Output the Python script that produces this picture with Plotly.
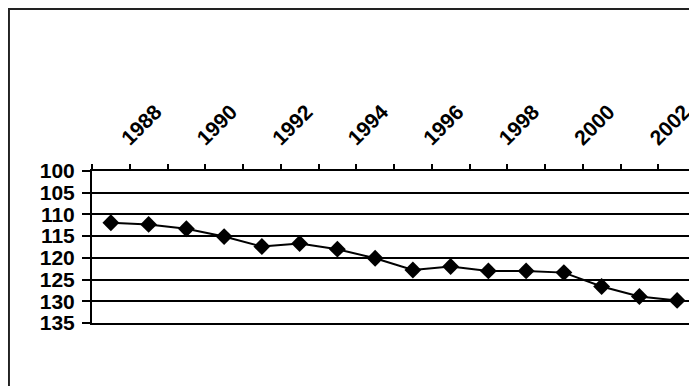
import plotly.graph_objects as go

# index values by year (axis is reversed: 100 at top)
years = list(range(1987, 2003))
values = [111.9, 112.3, 113.3, 115.1, 117.4, 116.7, 118.0, 120.1,
          122.8, 122.0, 123.0, 123.0, 123.4, 126.6, 128.9, 129.8]
label_years = [1988, 1990, 1992, 1994, 1996, 1998, 2000, 2002]
y_ticks = [100, 105, 110, 115, 120, 125, 130, 135]

font = dict(family="Arial, Liberation Sans, sans-serif", color="black")

fig = go.Figure()
fig.add_trace(go.Scatter(
    x=years, y=values,
    mode="lines+markers",
    line=dict(color="black", width=2),
    marker=dict(symbol="diamond", size=13, color="black"),
    showlegend=False,
    cliponaxis=False,
))

fig.update_xaxes(
    side="top",
    range=[years[0] - 0.5, years[-1] + 0.5],
    tickvals=label_years,
    ticktext=[f"<b>{y}</b>" for y in label_years],
    tickangle=-45,
    ticks="",
    tickfont=dict(size=21, **font),
    ticklabelshift=-26,
    ticklabelstandoff=11,
    ticklabeloverflow="allow",
    automargin=False,
    showgrid=False,
    showline=True, linecolor="black", linewidth=2, mirror=True,
    minor=dict(tickvals=[y - 0.5 for y in years] + [years[-1] + 0.5],
               ticks="outside", ticklen=5, tickwidth=2, tickcolor="black"),
    zeroline=False,
)
fig.update_yaxes(
    range=[135, 100],
    tickvals=y_ticks,
    ticktext=[f"<b>{v}</b>" for v in y_ticks],
    ticks="outside", ticklen=8, tickwidth=2, tickcolor="black",
    tickfont=dict(size=21, **font),
    ticklabelstandoff=3,
    automargin=False,
    showgrid=True, gridcolor="black", gridwidth=2,
    showline=True, linecolor="black", linewidth=2,
    zeroline=False,
)

# outer chart-area border (extends past the right and bottom edges)
fig.add_shape(type="rect", xref="paper", yref="paper",
              x0=-0.1375, x1=1.2, y0=-1.5, y1=2.066,
              line=dict(color="#222", width=2))

# page body adds an 8px offset, so the figure is 8px smaller than the window
fig.update_layout(
    width=689, height=378,
    margin=dict(l=84, r=1, t=163, b=63),
    plot_bgcolor="white", paper_bgcolor="white",
)

fig.write_html("out.html")
